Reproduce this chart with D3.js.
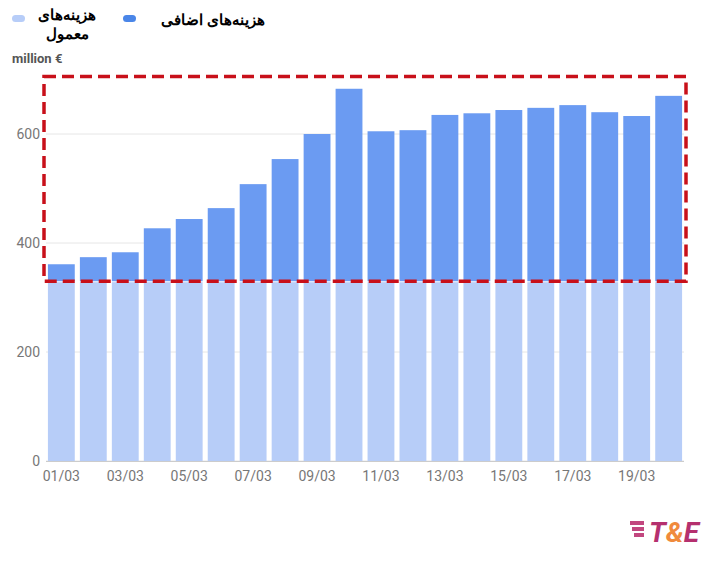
<!DOCTYPE html><html><head><meta charset="utf-8">
<script src="https://cdn.jsdelivr.net/npm/d3@7"></script>
<style>body{margin:0;background:#fff}text{font-family:Roboto,"Noto Sans",sans-serif}</style></head><body>
<svg id="c" width="720" height="580"></svg>
<script>
const days=["01/03","02/03","03/03","04/03","05/03","06/03","07/03","08/03","09/03","10/03","11/03","12/03","13/03","14/03","15/03","16/03","17/03","18/03","19/03","20/03"];
const baseCost=[328,328,328,328,328,328,328,328,328,328,328,328,328,328,328,328,328,328,328,328];
const totalCost=[361,374,383,427,444,464,508,554,600,683,605,607,635,638,644,648,653,640,633,670];
const yTicks=[0,200,400,600];
const svg=d3.select("#c");
const x=d3.scaleBand().domain(days).range([46,684]).paddingInner(0.16).paddingOuter(0.06);
const y=d3.scaleLinear().domain([0,700]).range([461,79.5]);
svg.append("g").selectAll("line").data(yTicks).join("line").attr("x1",46).attr("x2",684).attr("y1",d=>y(d)).attr("y2",d=>y(d)).attr("stroke","#e6e6e6");
svg.append("g").selectAll("rect").data(days).join("rect").attr("x",d=>x(d)).attr("width",x.bandwidth()).attr("y",(d,i)=>y(baseCost[i])).attr("height",(d,i)=>y(0)-y(baseCost[i])).attr("fill","#b7cdf8");
svg.append("g").selectAll("rect").data(days).join("rect").attr("x",d=>x(d)).attr("width",x.bandwidth()).attr("y",(d,i)=>y(totalCost[i])).attr("height",(d,i)=>y(baseCost[i])-y(totalCost[i])-1).attr("fill","#6b9bf2");
svg.append("g").selectAll("text").data(yTicks).join("text").attr("x",40).attr("y",d=>y(d)+5).attr("text-anchor","end").attr("font-size",14).attr("fill","#777").text(d=>d);
svg.append("line").attr("x1",46).attr("x2",684).attr("y1",461.5).attr("y2",461.5).attr("stroke","#ccc");
svg.append("g").selectAll("text").data(days.filter((d,i)=>i%2==0)).join("text").attr("x",d=>x(d)+x.bandwidth()/2).attr("y",481).attr("text-anchor","middle").attr("font-size",14).attr("fill","#777").text(d=>d);
svg.append("text").attr("x",12).attr("y",63).attr("font-size",13).attr("font-weight","bold").attr("fill","#555").text("million €");
svg.append("rect").attr("x",44).attr("y",y(700)-3).attr("width",642).attr("height",y(328)-y(700)+2).attr("fill","none").attr("stroke","#c8101a").attr("stroke-width",3.5).attr("stroke-dasharray","12,6");
svg.append("rect").attr("x",12).attr("y",15).attr("width",13).attr("height",7).attr("rx",3.5).attr("fill","#b7cdf8");
const t1=svg.append("text").attr("font-size",15).attr("font-weight","bold").attr("text-anchor","middle").attr("direction","rtl").attr("font-family","Noto Sans,DejaVu Sans,sans-serif");
t1.append("tspan").attr("x",67).attr("y",20).text("هزینه‌های");
t1.append("tspan").attr("x",67).attr("y",39).text("معمول");
svg.append("rect").attr("x",123).attr("y",15).attr("width",13).attr("height",7).attr("rx",3.5).attr("fill","#4a86e8");
svg.append("text").attr("x",265).attr("y",25).attr("font-size",15).attr("font-weight","bold").attr("text-anchor","start").attr("direction","rtl").attr("font-family","Noto Sans,DejaVu Sans,sans-serif").text("هزینه‌های اضافی");
const lg=svg.append("g");
[0,6,12].forEach((o,i)=>lg.append("rect").attr("x",630+i*2).attr("y",521+o).attr("width",14-i*2).attr("height",4).attr("fill","#c2477f"));
lg.append("text").attr("x",649).attr("y",542).attr("font-size",28).attr("font-weight","bold").attr("font-style","italic").attr("fill","#b5306e").html('T<tspan fill="#f08a3c">&amp;</tspan>E');
</script></body></html>
